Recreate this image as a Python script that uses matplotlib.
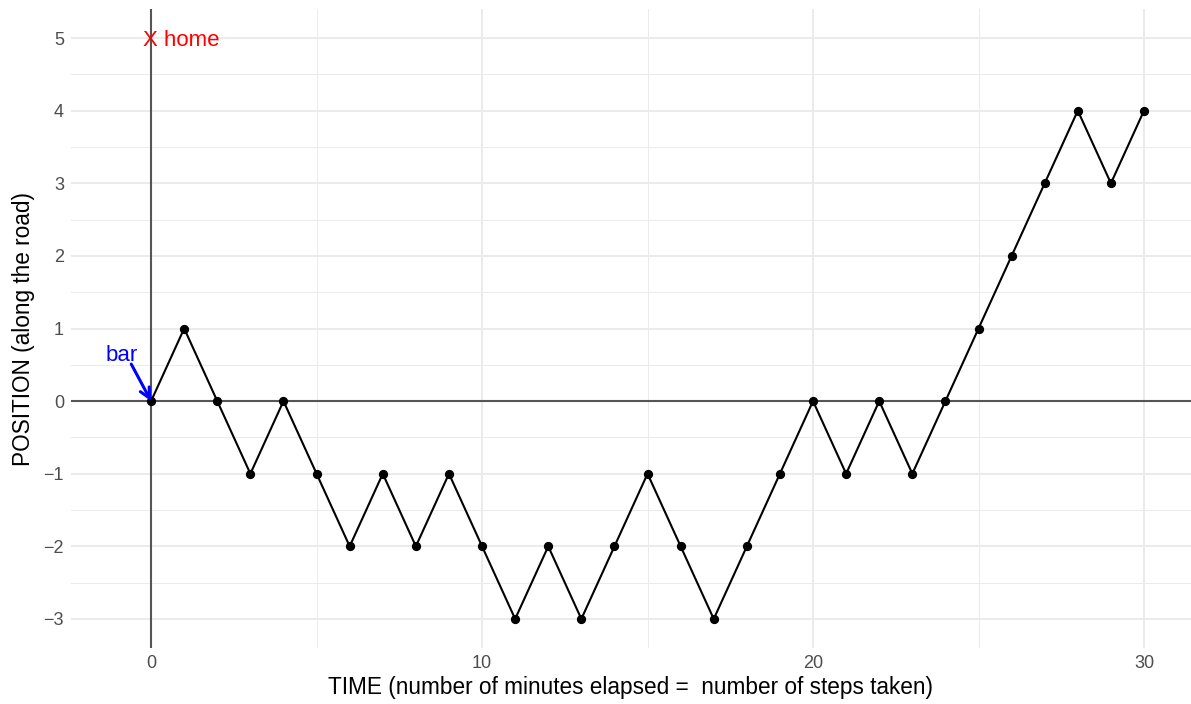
import matplotlib
matplotlib.use("Agg")
import matplotlib.pyplot as plt
import numpy as np

plt.rcParams['font.family'] = ['Liberation Sans', 'DejaVu Sans']

time = list(range(31))
position = [0, 1, 0, -1, 0, -1, -2, -1, -2, -1, -2, -3, -2, -3, -2, -1,
            -2, -3, -2, -1, 0, -1, 0, -1, 0, 1, 2, 3, 4, 3, 4]
x_ticks = [0, 10, 20, 30]
x_minor = [5, 15, 25]
y_ticks = [-3, -2, -1, 0, 1, 2, 3, 4, 5]
y_minor = [-2.5, -1.5, -0.5, 0.5, 1.5, 2.5, 3.5, 4.5]

fig = plt.figure(figsize=(11.91, 7.04), dpi=100)
ax = fig.add_axes([71/1191, 1-648/704, 1-71/1191, (648-9)/704])
ax.set_xlim(-2.42, 31.42)
ax.set_ylim(-3.4, 5.4)

grid_c = '#EBEBEB'
for v in x_ticks:
    ax.axvline(v, color=grid_c, lw=1.4, zorder=0)
for v in x_minor:
    ax.axvline(v, color=grid_c, lw=0.7, zorder=0)
for v in y_ticks:
    ax.axhline(v, color=grid_c, lw=1.4, zorder=0)
for v in y_minor:
    ax.axhline(v, color=grid_c, lw=0.7, zorder=0)

ax.axhline(0, color='#555555', lw=1.5, zorder=1)
ax.axvline(0, color='#555555', lw=1.5, zorder=1)

ax.plot(time, position, color='black', lw=1.5, zorder=2)
ax.scatter(time, position, color='black', s=32, zorder=3)

ax.text(0.9, 4.97, 'X home', color='red', fontsize=16, ha='center', va='center')
ax.text(-0.88, 0.63, 'bar', color='blue', fontsize=16, ha='center', va='center')
ax.annotate('', xy=(0, 0), xytext=(-0.6, 0.51),
            arrowprops=dict(arrowstyle='->', color='blue', lw=2.2,
                            mutation_scale=18, shrinkA=0, shrinkB=0))

for s in ax.spines.values():
    s.set_visible(False)
ax.set_xticks(x_ticks)
ax.set_yticks(y_ticks)
ax.set_yticklabels(['\u2212' + str(-v) if v < 0 else str(v) for v in y_ticks])
ax.tick_params(length=0, labelsize=13, colors='#4D4D4D', pad=5)
ax.set_xlabel('TIME (number of minutes elapsed =  number of steps taken)', fontsize=16.3, labelpad=3)
ax.set_ylabel('POSITION (along the road)', fontsize=16.3, labelpad=6)

fig.savefig('out.png', dpi=100)
